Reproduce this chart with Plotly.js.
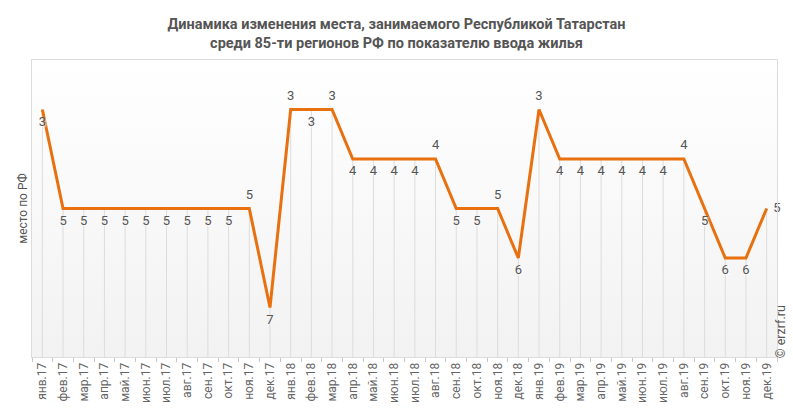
<!DOCTYPE html>
<html>
<head>
<meta charset="utf-8">
<script src="https://cdn.plot.ly/plotly-3.0.1.min.js"></script>
<style>
  html, body { margin: 0; padding: 0; background: #fff; }
  #myPlot { width: 793px; height: 415px; }
</style>
</head>
<body>
<div id="myPlot"></div>
<script>
// months (categories)
var months = [
  'янв.17', 'фев.17', 'мар.17', 'апр.17', 'май.17', 'июн.17', 'июл.17', 'авг.17', 'сен.17', 'окт.17', 'ноя.17', 'дек.17',
  'янв.18', 'фев.18', 'мар.18', 'апр.18', 'май.18', 'июн.18', 'июл.18', 'авг.18', 'сен.18', 'окт.18', 'ноя.18', 'дек.18',
  'янв.19', 'фев.19', 'мар.19', 'апр.19', 'май.19', 'июн.19', 'июл.19', 'авг.19', 'сен.19', 'окт.19', 'ноя.19', 'дек.19'
];

// place among 85 regions
var places = [
  3, 5, 5, 5, 5, 5, 5, 5, 5, 5, 5, 7,
  3, 3, 3, 4, 4, 4, 4, 4, 5, 5, 5, 6,
  3, 4, 4, 4, 4, 4, 4, 4, 5, 6, 6, 5
];

// where each value label sits
var labelPos = [
  'bottom center', 'bottom center', 'bottom center', 'bottom center', 'bottom center', 'bottom center',
  'bottom center', 'bottom center', 'bottom center', 'bottom center', 'top center', 'bottom center',
  'top center', 'bottom center', 'top center', 'bottom center', 'bottom center', 'bottom center',
  'bottom center', 'top center', 'bottom center', 'bottom center', 'top center', 'bottom center',
  'top center', 'bottom center', 'bottom center', 'bottom center', 'bottom center', 'bottom center',
  'bottom center', 'top center', 'bottom center', 'bottom center', 'bottom center', 'middle right'
];

var yBottom = 8;
var yTop = 2;

// drop lines from each point down to the axis
var dropLen = places.map(function (v) { return yBottom - v; });

// vertical gradient for the plot area background
var bgSvg = '<svg xmlns="http://www.w3.org/2000/svg" width="10" height="100" preserveAspectRatio="none">' +
  '<defs><linearGradient id="g" x1="0" y1="0" x2="0" y2="1">' +
  '<stop offset="0" stop-color="#ffffff"/><stop offset="1" stop-color="#f2f2f2"/>' +
  '</linearGradient></defs><rect width="10" height="100" fill="url(#g)"/></svg>';

var Drops = {
  type: 'scatter',
  x: months,
  y: places,
  mode: 'markers',
  marker: { size: 1, color: 'rgba(0,0,0,0)' },
  error_y: {
    type: 'data',
    symmetric: false,
    array: dropLen,
    arrayminus: places.map(function () { return 0; }),
    color: '#dcdcdc',
    thickness: 1,
    width: 0
  },
  hoverinfo: 'skip',
  showlegend: false
};

var Place = {
  type: 'scatter',
  x: months,
  y: places,
  mode: 'lines+markers+text',
  text: places.map(String),
  textposition: labelPos,
  textfont: { family: 'Roboto, Arial, sans-serif', size: 13, color: '#555', shadow: '1px 1px 2px #fff' },
  line: { color: '#e8700f', width: 3 },
  marker: { size: 9, color: 'rgba(0,0,0,0)' },
  cliponaxis: false,
  showlegend: false
};

var layout = {
  width: 793,
  height: 415,
  margin: { l: 32, r: 16, t: 60, b: 58 },
  paper_bgcolor: '#ffffff',
  plot_bgcolor: 'rgba(0,0,0,0)',
  font: { family: 'Roboto, Arial, sans-serif', color: '#555' },
  title: {
    text: '<b>Динамика изменения места, занимаемого Республикой Татарстан<br>среди 85-ти регионов РФ по показателю ввода жилья</b>',
    font: { family: 'Roboto, Arial, sans-serif', size: 14.5, color: '#555' },
    x: 0.5,
    xanchor: 'center',
    xref: 'container',
    yref: 'container',
    y: 0.93,
    yanchor: 'middle'
  },
  xaxis: {
    type: 'category',
    range: [-0.5, 35.5],
    showgrid: false,
    zeroline: false,
    showline: true,
    linecolor: '#dcdcdc',
    mirror: true,
    ticks: 'outside',
    tickson: 'boundaries',
    ticklen: 4,
    tickcolor: '#c8c8c8',
    tickangle: -90,
    tickfont: { family: 'Roboto, Arial, sans-serif', size: 12, color: '#666' }
  },
  yaxis: {
    range: [yBottom, yTop],
    showgrid: false,
    zeroline: false,
    showticklabels: false,
    showline: true,
    linecolor: '#dcdcdc',
    mirror: true,
    title: {
      text: 'место по РФ',
      font: { family: 'Roboto, Arial, sans-serif', size: 12, color: '#555' },
      standoff: 0
    }
  },
  images: [{
    source: 'data:image/svg+xml;charset=utf-8,' + encodeURIComponent(bgSvg),
    xref: 'paper',
    yref: 'paper',
    x: 0,
    y: 1,
    sizex: 1,
    sizey: 1,
    sizing: 'stretch',
    xanchor: 'left',
    yanchor: 'top',
    layer: 'below'
  }],
  annotations: [{
    text: '© erzrf.ru',
    xref: 'paper',
    yref: 'paper',
    x: 1.005,
    y: -0.01,
    xanchor: 'center',
    yanchor: 'bottom',
    textangle: -90,
    showarrow: false,
    font: { family: 'Roboto, Arial, sans-serif', size: 12.5, color: '#555' }
  }]
};

Plotly.newPlot('myPlot', [Drops, Place], layout, { displayModeBar: false });
</script>
</body>
</html>
